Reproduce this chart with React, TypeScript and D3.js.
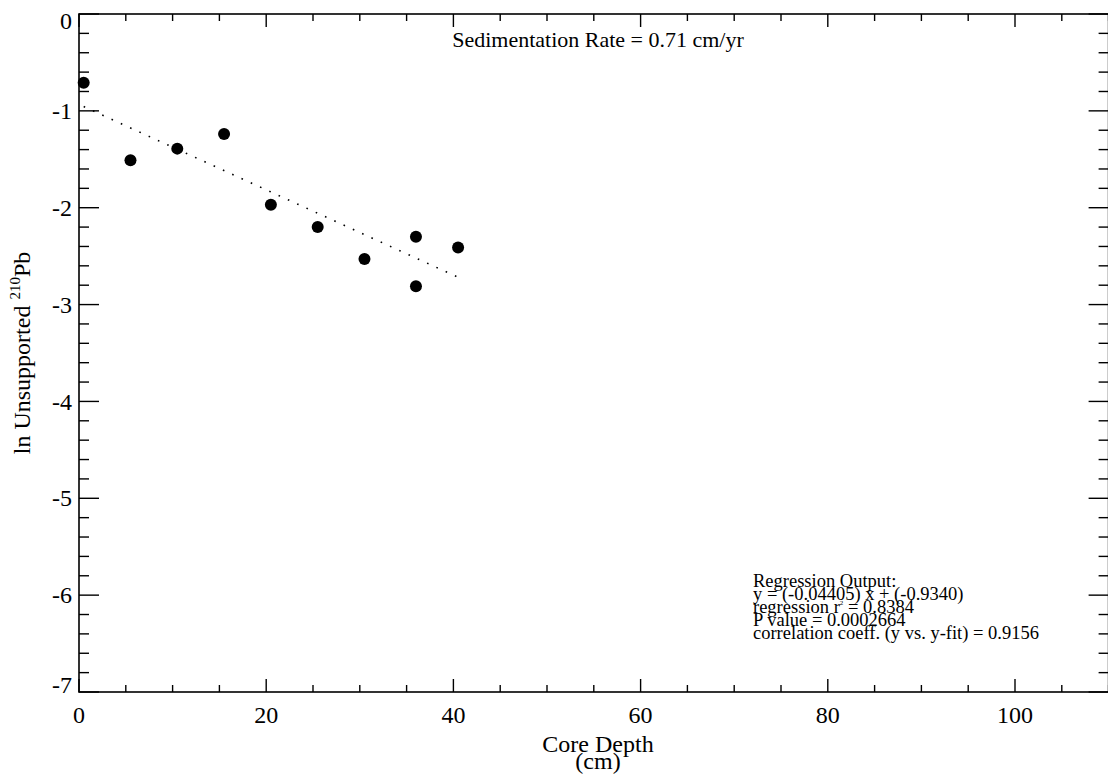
import React, { useEffect, useRef } from 'react';
import * as d3 from 'd3';

// core depth (cm) and ln of unsupported 210Pb
const depth = [0.5, 5.5, 10.5, 15.5, 20.5, 25.5, 30.5, 36.0, 36.0, 40.5];
const lnPb = [-0.71, -1.51, -1.39, -1.24, -1.97, -2.2, -2.53, -2.3, -2.81, -2.41];

const slope = -0.04405;
const intercept = -0.934;

const xMajor = [0, 20, 40, 60, 80, 100];
const yMajor = [0, -1, -2, -3, -4, -5, -6, -7];

const rateLabel = 'Sedimentation Rate = 0.71 cm/yr';
const regressionLines = [
  'Regression Output:',
  'y = (-0.04405) x + (-0.9340)',
  'regression r|2| = 0.8384',
  'P value = 0.0002664',
  'correlation coeff. (y vs. y-fit) = 0.9156',
];

const W = 1108;
const H = 775;
const FONT = '"Liberation Serif", "Times New Roman", serif';

const App = () => {
  const ref = useRef<SVGSVGElement>(null);

  useEffect(() => {
    const svg = d3.select(ref.current);
    svg.selectAll('*').remove();

    const left = 79, top = 14, bottom = 692;
    const x = d3.scaleLinear().domain([0, 110]).range([left, left + 110 * 9.36]);
    const y = d3.scaleLinear().domain([-7, 0]).range([bottom, top]);
    const right = x(110);

    const g = svg.append('g').attr('font-family', FONT).attr('fill', '#000');

    // frame
    g.append('rect')
      .attr('x', left).attr('y', top)
      .attr('width', right - left).attr('height', bottom - top)
      .attr('fill', 'none').attr('stroke', '#000').attr('stroke-width', 1.6);

    // x ticks (bottom + top)
    const xMinor = d3.range(0, 111, 5);
    xMinor.forEach(v => {
      const major = v % 20 === 0;
      const len = major ? 13 : 7;
      g.append('line').attr('x1', x(v)).attr('x2', x(v)).attr('y1', bottom).attr('y2', bottom - len)
        .attr('stroke', '#000').attr('stroke-width', 1.4);
      g.append('line').attr('x1', x(v)).attr('x2', x(v)).attr('y1', top).attr('y2', top + len)
        .attr('stroke', '#000').attr('stroke-width', 1.4);
    });

    // y ticks (left + right)
    const yMinor = d3.range(0, 36).map(i => -i * 0.2);
    yMinor.forEach((v, i) => {
      const major = i % 5 === 0;
      const len = major ? 20 : 10;
      g.append('line').attr('x1', left).attr('x2', left + len).attr('y1', y(v)).attr('y2', y(v))
        .attr('stroke', '#000').attr('stroke-width', 1.4);
      g.append('line').attr('x1', right).attr('x2', right - len).attr('y1', y(v)).attr('y2', y(v))
        .attr('stroke', '#000').attr('stroke-width', 1.4);
    });

    // tick labels
    g.selectAll('.xl').data(xMajor).join('text')
      .attr('x', d => x(d)).attr('y', 723)
      .attr('text-anchor', 'middle').attr('font-size', 24)
      .text(d => d);

    g.selectAll('.yl').data(yMajor).join('text')
      .attr('x', 72)
      .attr('y', d => Math.min(Math.max(y(d), top + 7), bottom - 7))
      .attr('dy', '0.34em')
      .attr('text-anchor', 'end').attr('font-size', 24)
      .text(d => d);

    // axis titles
    g.append('text').attr('x', 598).attr('y', 752).attr('text-anchor', 'middle')
      .attr('font-size', 24).text('Core Depth');
    g.append('text').attr('x', 598).attr('y', 769).attr('text-anchor', 'middle')
      .attr('font-size', 24).text('(cm)');

    const yt = g.append('text')
      .attr('transform', `translate(30,${(top + bottom) / 2}) rotate(-90)`)
      .attr('text-anchor', 'middle').attr('font-size', 24);
    yt.append('tspan').text('ln Unsupported ');
    yt.append('tspan').attr('font-size', 15).attr('dy', -10).text('210');
    yt.append('tspan').attr('dy', 10).text('Pb');

    // regression fit line
    const xr = d3.extent(depth) as [number, number];
    g.append('line')
      .attr('x1', x(xr[0])).attr('y1', y(slope * xr[0] + intercept))
      .attr('x2', x(xr[1])).attr('y2', y(slope * xr[1] + intercept))
      .attr('stroke', '#000').attr('stroke-width', 1.6)
      .attr('stroke-dasharray', '1.6 8.6');

    // data points
    g.selectAll('circle').data(depth).join('circle')
      .attr('cx', d => x(d)).attr('cy', (d, i) => y(lnPb[i])).attr('r', 6)
      .attr('fill', '#000');

    // annotations
    g.append('text').attr('x', 598).attr('y', 47).attr('text-anchor', 'middle')
      .attr('font-size', 22).text(rateLabel);

    regressionLines.forEach((line, i) => {
      const t = g.append('text').attr('x', 753).attr('y', 587 + i * 13).attr('font-size', 18.5);
      const parts = line.split('|');
      t.append('tspan').text(parts[0]);
      if (parts.length > 1) {
        t.append('tspan').attr('font-size', 7).attr('dy', -8).text(parts[1]);
        t.append('tspan').attr('dy', 8).text(parts[2]);
      }
    });
  }, []);

  return (
    <svg ref={ref} width={W} height={H}
      style={{ position: 'absolute', left: 0, top: 0, background: '#fff' }} />
  );
};

export default App;
